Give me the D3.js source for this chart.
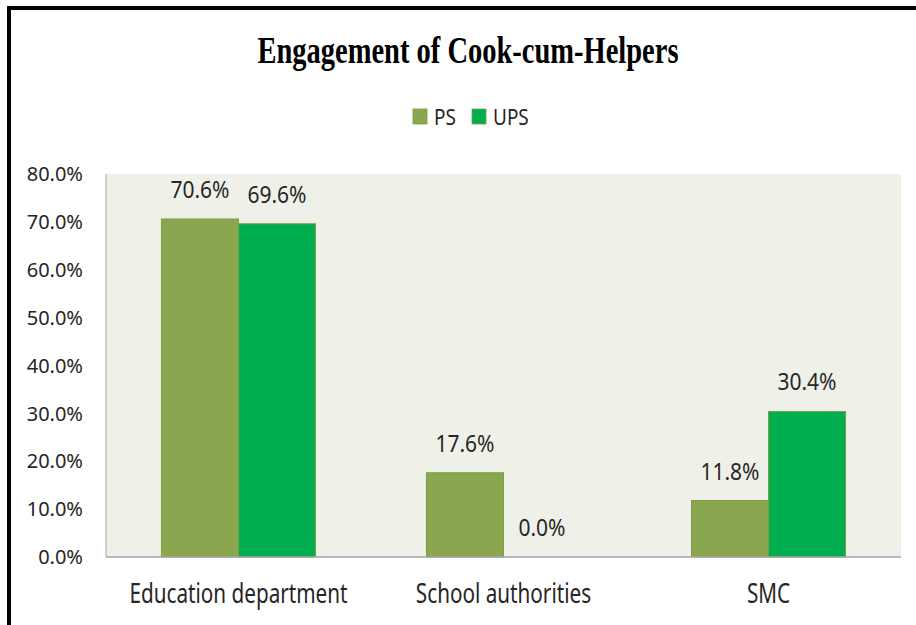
<!DOCTYPE html>
<html>
<head>
<meta charset="UTF-8">
<title>Engagement of Cook-cum-Helpers</title>
<script src="https://cdnjs.cloudflare.com/ajax/libs/d3/7.8.5/d3.min.js"></script>
<style>
body { margin:0; background:#fff; }
text { font-family:"Noto Sans", sans-serif; fill:#262626; }
.title { font-family:"Liberation Serif", serif; font-weight:bold; fill:#000; }
</style>
</head>
<body>
<div id="chart"></div>
<script>
var categories = ["Education department", "School authorities", "SMC"];
var seriesNames = ["PS", "UPS"];
var psValues = [70.6, 17.6, 11.8];
var upsValues = [69.6, 0.0, 30.4];
var yTicks = [0, 10, 20, 30, 40, 50, 60, 70, 80];

var colors = {PS:"#8aa64e", UPS:"#00ae4f"};
var width = 916, height = 625;
var plot = {left:106, right:901, top:174, bottom:557};

var svg = d3.select("#chart").append("svg").attr("width", width).attr("height", height);

// outer frame (left and top edges show in the picture)
svg.append("rect").attr("x", 9).attr("y", 8).attr("width", 960).attr("height", 700)
  .attr("fill", "none").attr("stroke", "#000").attr("stroke-width", 4);

var x0 = d3.scaleBand().domain(categories).range([plot.left, plot.right]);
var x1 = d3.scaleBand().domain(seriesNames).range([0, x0.bandwidth()]).paddingOuter(0.72);
var y = d3.scaleLinear().domain([0, 80]).range([plot.bottom, plot.top]);

// plot background
svg.append("rect").attr("x", plot.left).attr("y", y(80))
  .attr("width", plot.right - plot.left).attr("height", y(0) - y(80))
  .attr("fill", "#eff1e8");

var rows = categories.map(function(c, i){
  return {cat:c, vals:[{s:"PS", v:psValues[i]}, {s:"UPS", v:upsValues[i]}]};
});

var groups = svg.selectAll(".grp").data(rows).enter().append("g")
  .attr("transform", function(d){ return "translate(" + x0(d.cat) + ",0)"; });

groups.selectAll("rect").data(function(d){ return d.vals; }).enter().append("rect")
  .attr("x", function(d){ return x1(d.s); })
  .attr("y", function(d){ return y(d.v); })
  .attr("width", x1.bandwidth())
  .attr("height", function(d){ return y(0) - y(d.v); })
  .attr("fill", function(d){ return colors[d.s]; })
  .attr("stroke", function(d){ return d.v > 0 ? "#7f9b48" : "none"; })
  .attr("stroke-width", 1);

// value labels
groups.selectAll(".val").data(function(d){ return d.vals; }).enter().append("text")
  .attr("class", "val")
  .attr("transform", function(d){ return "translate(" + (x1(d.s) + x1.bandwidth()/2) + "," + (y(d.v) - 21) + ") scale(1,1.1)"; })
  .attr("text-anchor", "middle")
  .style("font-size", "21px")
  .text(function(d){ return d.v.toFixed(1) + "%"; });

// axes lines
svg.append("line").attr("x1", plot.left).attr("x2", plot.left).attr("y1", y(80)).attr("y2", y(0))
  .attr("stroke", "#a6a6a6").attr("stroke-width", 1);
svg.append("line").attr("x1", plot.left).attr("x2", plot.right).attr("y1", y(0)).attr("y2", y(0))
  .attr("stroke", "#a6a6a6").attr("stroke-width", 1.5);

// y tick labels
svg.selectAll(".ytick").data(yTicks).enter().append("text")
  .attr("class", "ytick")
  .attr("x", 83)
  .attr("y", function(d){ return y(d); })
  .attr("dy", "0.36em")
  .attr("text-anchor", "end")
  .style("font-size", "20px")
  .text(function(d){ return d.toFixed(1) + "%"; });

// category labels
svg.selectAll(".xlab").data(categories).enter().append("text")
  .attr("class", "xlab")
  .attr("transform", function(d){ return "translate(" + (x0(d) + x0.bandwidth()/2) + ",603) scale(1,1.3)"; })
  .attr("text-anchor", "middle")
  .style("font-size", "20.7px")
  .text(function(d){ return d; });

// title
svg.append("text").attr("class", "title")
  .attr("transform", "translate(468,63) scale(0.75,1)")
  .attr("text-anchor", "middle")
  .style("font-size", "38px")
  .text("Engagement of Cook-cum-Helpers");

// legend
var legX = [413, 472];
var leg = svg.selectAll(".leg").data(seriesNames).enter().append("g")
  .attr("transform", function(d, i){ return "translate(" + legX[i] + ",109)"; });
leg.append("rect").attr("width", 14).attr("height", 15)
  .attr("fill", function(d){ return colors[d]; })
  .attr("stroke", "#7f9b48").attr("stroke-width", 0.8);
leg.append("text").attr("transform", "translate(21,16) scale(1,1.12)")
  .style("font-size", "19px")
  .text(function(d){ return d; });
</script>
</body>
</html>
